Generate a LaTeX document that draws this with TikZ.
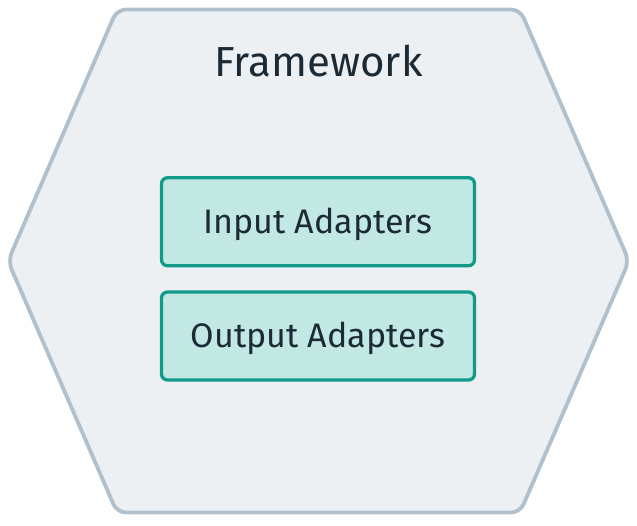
\documentclass[tikz,border=0pt]{standalone}
\usepackage{fontspec}
\setmainfont{Fira Sans}
\definecolor{hexfill}{HTML}{ECF0F3}
\definecolor{hexline}{HTML}{B0C0CD}
\definecolor{boxfill}{HTML}{C2E8E4}
\definecolor{boxline}{HTML}{119A88}
\definecolor{txt}{HTML}{1B2A35}
\tikzset{
  hexshape/.style={fill=hexfill, draw=hexline, line width=3.8pt, rounded corners=9pt, line join=round},
  adapterbox/.style={draw=boxline, fill=boxfill, line width=3.3pt, rounded corners=6pt,
    minimum width=313pt, minimum height=88pt, inner sep=0pt, text=txt,
    text height=23.5pt, text depth=0pt,
    font=\fontsize{34}{38}\selectfont},
  titletext/.style={text=txt, font=\fontsize{42}{46}\selectfont, inner sep=0pt}
}
\begin{document}
\begin{tikzpicture}[x=1pt,y=-1pt]
\useasboundingbox (0,0) rectangle (637,525);
\draw[hexshape] (8,261) -- (117,9.5) -- (520,9.5) -- (629,261) -- (520,512.5) -- (117,512.5) -- cycle;
\node[titletext, anchor=base] (title) at (318.5,76) {Framework};
\node[adapterbox] (input) at (318,221.75) {Input Adapters};
\node[adapterbox] (output) at (318,336) {Output Adapters};
\end{tikzpicture}
\end{document}
